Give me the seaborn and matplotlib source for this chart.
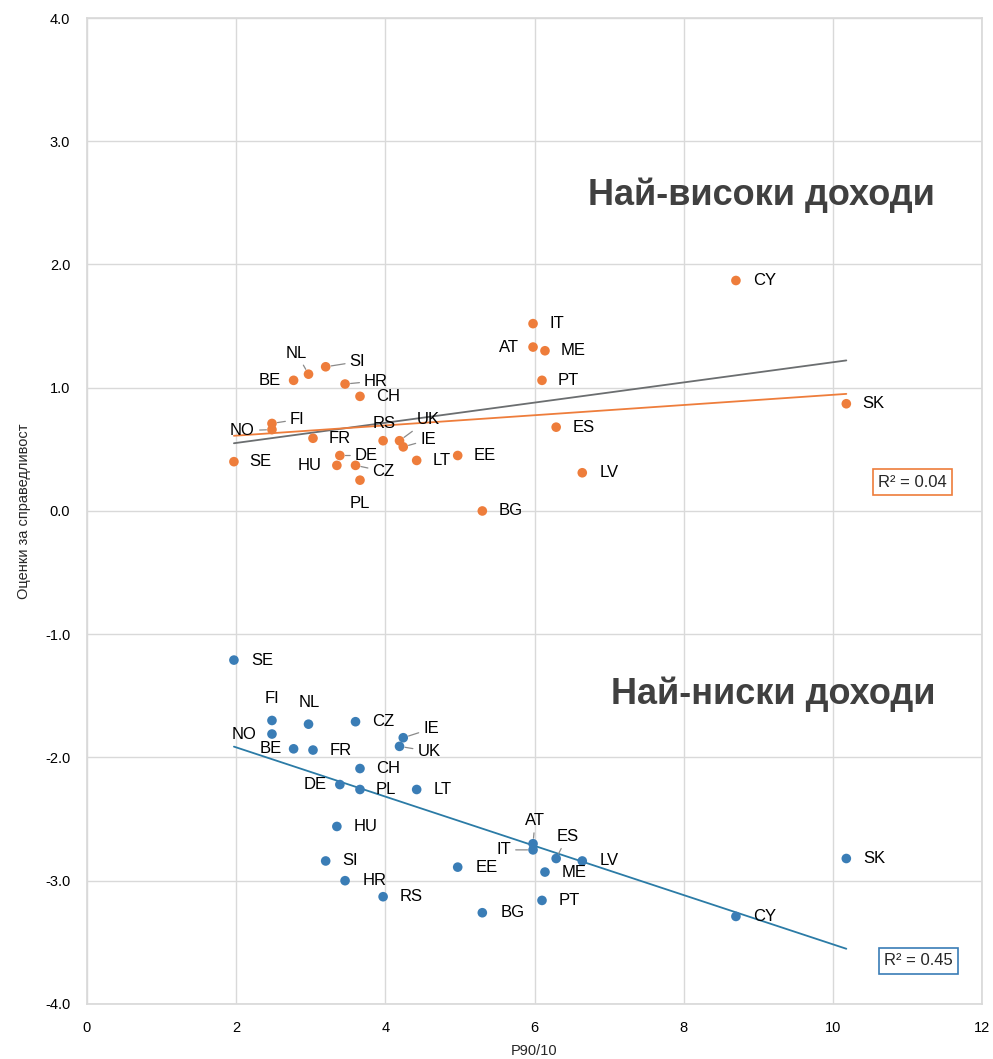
import numpy as np
import pandas as pd
import seaborn as sns
import matplotlib.pyplot as plt

# Данни: P90/10 и оценки за справедливост по държави
countries = ["SE", "NO", "FI", "BE", "NL", "SI", "HR", "CH", "FR", "DE", "HU", "CZ", "PL", "RS",
             "UK", "IE", "LT", "EE", "BG", "IT", "AT", "ME", "PT", "ES", "LV", "CY", "SK"]
p90_10 = [1.97, 2.48, 2.48, 2.77, 2.97, 3.20, 3.46, 3.66, 3.03, 3.39, 3.35, 3.60, 3.66, 3.97,
          4.19, 4.24, 4.42, 4.97, 5.30, 5.98, 5.98, 6.14, 6.10, 6.29, 6.64, 8.70, 10.18]
high_income = [0.40, 0.66, 0.71, 1.06, 1.11, 1.17, 1.03, 0.93, 0.59, 0.45, 0.37, 0.37, 0.25, 0.57,
               0.57, 0.52, 0.41, 0.45, 0.00, 1.52, 1.33, 1.30, 1.06, 0.68, 0.31, 1.87, 0.87]
low_income = [-1.21, -1.81, -1.70, -1.93, -1.73, -2.84, -3.00, -2.09, -1.94, -2.22, -2.56, -1.71, -2.26, -3.13,
              -1.91, -1.84, -2.26, -2.89, -3.26, -2.75, -2.70, -2.93, -3.16, -2.82, -2.84, -3.29, -2.82]
group_names = ["Най-високи доходи", "Най-ниски доходи"]
r2_labels = ["R² = 0.04", "R² = 0.45"]
orange_trend_x = [1.97, 10.18]
orange_trend_y = [0.61, 0.95]

# разположение на етикетите: (dx, dy надолу в пиксели, подравняване, линия)
high_pos = {"SE": (15, 0, "left", 0), "NO": (-17, 1, "right", 1), "FI": (18, -4, "left", 1),
            "BE": (-13, 0, "right", 0), "NL": (-12, -21, "center", 1), "SI": (24, -5, "left", 1),
            "HR": (19, -3, "left", 1), "CH": (16, 0, "left", 0), "FR": (16, 0, "left", 0),
            "DE": (15, 0, "left", 1), "HU": (-15, 0, "right", 0), "CZ": (17, 6, "left", 1),
            "PL": (0, 23, "center", 0), "RS": (1, -17, "center", 0), "UK": (17, -21, "left", 1),
            "IE": (17, -7, "left", 1), "LT": (16, 0, "left", 0), "EE": (16, 0, "left", 0),
            "BG": (16, 0, "left", 0), "IT": (16, 0, "left", 0), "AT": (-14, 0, "right", 0),
            "ME": (16, 0, "left", 0), "PT": (16, 0, "left", 0), "ES": (16, 0, "left", 0),
            "LV": (17, 0, "left", 0), "CY": (17, 0, "left", 0), "SK": (16, 0, "left", 0)}
low_pos = {"SE": (17, 0, "left", 0), "NO": (-15, 0, "right", 0), "FI": (0, -22, "center", 0),
           "BE": (-12, 0, "right", 0), "NL": (1, -22, "center", 0), "SI": (17, 0, "left", 0),
           "HR": (18, 0, "left", 0), "CH": (16, 0, "left", 0), "FR": (17, 0, "left", 0),
           "DE": (-13, 0, "right", 0), "HU": (17, 0, "left", 0), "CZ": (17, 0, "left", 0),
           "PL": (16, 0, "left", 0), "RS": (17, 0, "left", 0), "UK": (18, 5, "left", 1),
           "IE": (20, -9, "left", 1), "LT": (17, 0, "left", 0), "EE": (18, 0, "left", 0),
           "BG": (18, 0, "left", 0), "IT": (-22, 0, "right", 1), "AT": (2, -23, "center", 1),
           "ME": (17, 0, "left", 0), "PT": (17, 0, "left", 0), "ES": (0, -22, "left", 1),
           "LV": (17, 0, "left", 0), "CY": (17, 0, "left", 0), "SK": (17, 0, "left", 0)}

df = pd.concat([
    pd.DataFrame({"country": countries, "x": p90_10, "y": high_income, "group": group_names[0]}),
    pd.DataFrame({"country": countries, "x": p90_10, "y": low_income, "group": group_names[1]}),
])

orange = "#EE7D3B"
blue = "#3A7DB6"
blue_line = "#2B7BA6"

sns.set_theme(style="whitegrid")
plt.rcParams["font.family"] = ["Liberation Sans", "DejaVu Sans"]

fig = plt.figure(figsize=(9.93, 10.59), dpi=100)
ax = fig.add_axes([0.0876, 0.052, 0.9014, 0.931])

sns.scatterplot(data=df, x="x", y="y", hue="group", palette=[orange, blue], s=48,
                linewidth=0, legend=False, ax=ax, zorder=3)
# сива линия: линеен тренд на най-високите доходи
sns.regplot(data=df[df.group == group_names[0]], x="x", y="y", scatter=False, ci=None,
            color="#6b6e70", line_kws={"lw": 1.3}, ax=ax)
sns.lineplot(x=orange_trend_x, y=orange_trend_y, color=orange, lw=1.3, ax=ax)
sns.regplot(data=df[df.group == group_names[1]], x="x", y="y", scatter=False, ci=None,
            color=blue_line, line_kws={"lw": 1.3}, ax=ax)

for pos, vals in [(high_pos, high_income), (low_pos, low_income)]:
    for c, xv, yv in zip(countries, p90_10, vals):
        dx, dy, ha, lead = pos[c]
        kw = {}
        if lead:
            kw["arrowprops"] = dict(arrowstyle="-", color="#8a8a8a", lw=0.9, shrinkA=1, shrinkB=4)
        ax.annotate(c, (xv, yv), xytext=(dx, -dy), textcoords="offset pixels", ha=ha, va="center",
                    fontsize=12, color="black", zorder=4, **kw)

ax.text(11.37, 2.56, group_names[0], ha="right", va="center", fontsize=26, fontweight="bold", color="#404040")
ax.text(11.37, -1.49, group_names[1], ha="right", va="center", fontsize=26, fontweight="bold", color="#404040")
ax.text(11.07, 0.235, r2_labels[0], ha="center", va="center", fontsize=12,
        bbox=dict(boxstyle="square,pad=0.32", fc="white", ec=orange, lw=1.2))
ax.text(11.15, -3.65, r2_labels[1], ha="center", va="center", fontsize=12,
        bbox=dict(boxstyle="square,pad=0.32", fc="white", ec=blue, lw=1.2))

ax.set_xlim(0, 12)
ax.set_ylim(-4, 4)
ax.set_xticks(range(0, 13, 2))
ax.set_yticks(np.arange(-4, 4.1, 1))
ax.set_yticklabels([f"{v:.1f}" for v in np.arange(-4, 4.1, 1)])
ax.tick_params(labelsize=10.5, colors="black", pad=6)
ax.grid(color="#d9d9d9", lw=1)
for s in ax.spines.values():
    s.set_color("#d9d9d9")
ax.set_xlabel("P90/10", fontsize=10.5, labelpad=7)
ax.set_ylabel("Оценки за справедливост", fontsize=10.5, labelpad=10)

fig.savefig("out.png", dpi=100)
